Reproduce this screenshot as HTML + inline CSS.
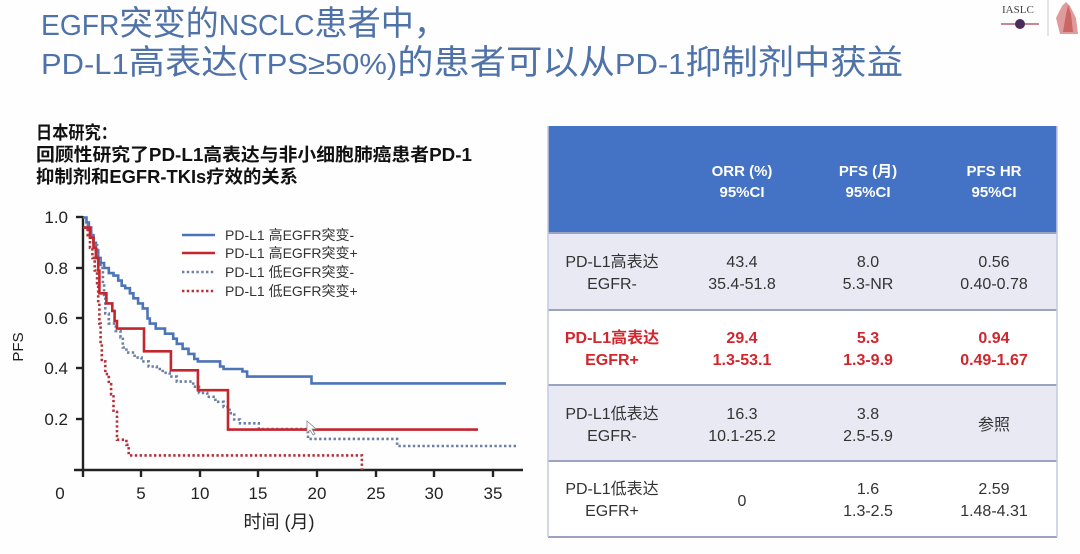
<!DOCTYPE html>
<html>
<head>
<meta charset="utf-8">
<style>
html,body{margin:0;padding:0;background:#fff;}
svg{display:block;}
text{font-family:"Liberation Sans","Noto Sans CJK SC",sans-serif;}
</style>
</head>
<body>
<svg width="1080" height="554" viewBox="0 0 1080 554" xmlns="http://www.w3.org/2000/svg">
<rect x="0" y="0" width="1080" height="554" fill="#fefefe"/>

<!-- Title -->
<text x="41" y="35" fill="#4f72a8" font-size="31" textLength="406" lengthAdjust="spacingAndGlyphs"><tspan font-size="29">EGFR</tspan><tspan font-size="34">突变的</tspan><tspan font-size="29">NSCLC</tspan><tspan font-size="34">患者中，</tspan></text>
<text x="41" y="74" fill="#4f72a8" font-size="31" textLength="862" lengthAdjust="spacingAndGlyphs"><tspan font-size="29">PD-L1</tspan><tspan font-size="34">高表达</tspan><tspan font-size="29">(TPS≥50%)</tspan><tspan font-size="34">的患者可以从</tspan><tspan font-size="29">PD-1</tspan><tspan font-size="34">抑制剂中获益</tspan></text>

<!-- logos -->
<text x="1002" y="13" style="font-family:'Liberation Serif',serif" font-size="11" fill="#444">IASLC</text>
<line x1="1001" y1="24" x2="1039" y2="24" stroke="#b06070" stroke-width="1.5"/>
<circle cx="1020" cy="24" r="5" fill="#4a2c5c"/>
<line x1="1048" y1="0" x2="1048" y2="36" stroke="#ccc" stroke-width="1"/>
<path d="M1060 34 L1056 18 L1062 6 L1066 2 L1070 6 L1076 18 L1078 34 Z" fill="#d98a8a" opacity="0.85"/>
<path d="M1063 32 L1066 14 L1068 5 L1071 14 L1073 32 Z" fill="#c0504d" opacity="0.7"/>

<!-- Subtitle -->
<text x="36" y="139" font-size="18" font-weight="bold" fill="#111" textLength="81" lengthAdjust="spacingAndGlyphs">日本研究：</text>
<text x="36" y="161" font-size="18" font-weight="bold" fill="#111" textLength="436" lengthAdjust="spacingAndGlyphs">回顾性研究了PD-L1高表达与非小细胞肺癌患者PD-1</text>
<text x="36" y="183" font-size="18" font-weight="bold" fill="#111" textLength="262" lengthAdjust="spacingAndGlyphs">抑制剂和EGFR-TKIs疗效的关系</text>

<!-- Chart axes -->
<g stroke="#222" stroke-width="2.4" fill="none">
<line x1="83" y1="216" x2="83" y2="471"/>
<line x1="74" y1="470" x2="523" y2="470"/>
<line x1="76" y1="217" x2="83" y2="217"/>
<line x1="76" y1="268" x2="83" y2="268"/>
<line x1="76" y1="318" x2="83" y2="318"/>
<line x1="76" y1="368" x2="83" y2="368"/>
<line x1="76" y1="419" x2="83" y2="419"/>
<line x1="83" y1="470" x2="83" y2="477"/>
<line x1="141" y1="470" x2="141" y2="477"/>
<line x1="200" y1="470" x2="200" y2="477"/>
<line x1="258" y1="470" x2="258" y2="477"/>
<line x1="317" y1="470" x2="317" y2="477"/>
<line x1="376" y1="470" x2="376" y2="477"/>
<line x1="434" y1="470" x2="434" y2="477"/>
<line x1="493" y1="470" x2="493" y2="477"/>
</g>
<g font-size="17" fill="#222" text-anchor="end">
<text x="68" y="223">1.0</text>
<text x="68" y="274">0.8</text>
<text x="68" y="324">0.6</text>
<text x="68" y="374">0.4</text>
<text x="68" y="425">0.2</text>
</g>
<g font-size="17" fill="#222" text-anchor="middle">
<text x="60" y="499">0</text>
<text x="141" y="499">5</text>
<text x="200" y="499">10</text>
<text x="258" y="499">15</text>
<text x="317" y="499">20</text>
<text x="376" y="499">25</text>
<text x="434" y="499">30</text>
<text x="493" y="499">35</text>
</g>
<text x="279" y="528" font-size="18" fill="#222" text-anchor="middle">时间 (月)</text>
<text transform="translate(23,347) rotate(-90)" font-size="15" fill="#222" text-anchor="middle">PFS</text>

<!-- Curves -->
<path fill="none" stroke="#4d74b8" stroke-width="2.6" d="M83 217.5 H86.5 V222.5 H88.9 V227.6 H91.2 V235.2 H93.5 V242.8 H95.9 V250.3 H98.2 V257.9 H100.6 V263 H104.1 V268 H108.8 V273.1 H113.5 V275.6 H118.2 V280.6 H121.7 V285.7 H125.2 V288.2 H129.9 V293.3 H133.4 V298.3 H138.1 V303.4 H142.8 V308.4 H147.5 V318.5 H149.8 V323.6 H155.7 V328.6 H165 V333.7 H173.2 V338.7 H176.8 V343.8 H182.6 V348.8 H188.5 V353.9 H194.3 V358.9 H197.9 V361.4 H220.1 V366.5 H223.6 V369 H242.4 V371.5 H247.1 V376.6 H311.5 V383.4 H506"/>

<path fill="none" stroke="#6a7ea6" stroke-width="2.6" stroke-dasharray="2.4 2.4" d="M86.5 225.1 H90 V235.2 H93.5 V245.3 H97.1 V257.9 H100.6 V268 H102.9 V283.2 H104.1 V298.3 H105.3 V313.5 H108.8 V323.6 H115.8 V331.1 H120.5 V337.4 H122.8 V347.5 H126.4 V352.6 H134.6 V357.6 H141.6 V361.4 H148.6 V366.5 H156.8 V369 H162.7 V372.8 H169.7 V376.6 H176.8 V381.6 H193.2 V386.7 H199 V393 H207.2 V396.8 H215.4 V401.8 H223.6 V406.9 H229.5 V413.2 H234.2 V419.5 H240 V423.3 H258.8 V429.1 H308 V438.9 H397.1 V446 H518"/>

<path fill="none" stroke="#b5323c" stroke-width="2.6" stroke-dasharray="2.4 2.4" d="M84.2 227.6 H87.7 V235.2 H90 V247.8 H92.4 V257.9 H94.7 V270.5 H97.1 V283.2 H98.2 V303.4 H99.4 V323.6 H100.6 V343.8 H101.8 V361.4 H105.3 V374.1 H108.8 V384.2 H111.1 V394.3 H113.5 V411.9 H117 V439.7 H126.4 V444.8 H128.7 V455.4 H361.9 V470"/>

<path fill="none" stroke="#c4262e" stroke-width="2.6" d="M83 227.6 H90 V237.7 H93.5 V247.8 H95.9 V257.9 H98.2 V270.5 H99.4 V293.3 H106.4 V303.4 H112.3 V310.9 H114.6 V321 H117 V328.6 H144 V351.3 H170.9 V370.3 H197.9 V390.2 H228 V429.6 H478"/>

<!-- cursor -->
<path d="M307 421 L307 433 L310 430 L313 435 L315 434 L312 429 L316 429 Z" fill="#fff" stroke="#888" stroke-width="0.8"/>

<!-- Legend -->
<line x1="182" y1="235" x2="215" y2="235" stroke="#4d74b8" stroke-width="2.6"/>
<line x1="182" y1="253" x2="215" y2="253" stroke="#c4262e" stroke-width="2.6"/>
<line x1="182" y1="272" x2="215" y2="272" stroke="#6a7ea6" stroke-width="2.6" stroke-dasharray="2.4 2.4"/>
<line x1="182" y1="291" x2="215" y2="291" stroke="#b5323c" stroke-width="2.6" stroke-dasharray="2.4 2.4"/>
<g font-size="14" fill="#333">
<text x="225" y="240">PD-L1 高EGFR突变-</text>
<text x="225" y="258">PD-L1 高EGFR突变+</text>
<text x="225" y="277">PD-L1 低EGFR突变-</text>
<text x="225" y="296">PD-L1 低EGFR突变+</text>
</g>

<!-- Table -->
<rect x="548" y="126" width="509" height="107" fill="#4472c4"/>
<rect x="548" y="233" width="509" height="77" fill="#e9e9f4"/>
<rect x="548" y="310" width="509" height="75" fill="#ffffff"/>
<rect x="548" y="385" width="509" height="76" fill="#e9e9f4"/>
<rect x="548" y="461" width="509" height="76" fill="#ffffff"/>
<g stroke="#9aa4c2" stroke-width="2">
<line x1="548" y1="310" x2="1057" y2="310"/>
<line x1="548" y1="385" x2="1057" y2="385"/>
<line x1="548" y1="461" x2="1057" y2="461"/>
<line x1="548" y1="537" x2="1057" y2="537"/>
<line x1="548" y1="233" x2="1057" y2="233"/>
</g>
<g stroke="#c3c9dd" stroke-width="1.5">
<line x1="548" y1="126" x2="548" y2="537"/>
<line x1="1057" y1="126" x2="1057" y2="537"/>
</g>
<g font-size="15" font-weight="bold" fill="#fff" text-anchor="middle">
<text x="742" y="176">ORR (%)</text>
<text x="742" y="197">95%CI</text>
<text x="868" y="176">PFS (月)</text>
<text x="868" y="197">95%CI</text>
<text x="994" y="176">PFS HR</text>
<text x="994" y="197">95%CI</text>
</g>
<g font-size="16" fill="#333" text-anchor="middle">
<text x="612" y="267">PD-L1高表达</text>
<text x="612" y="289">EGFR-</text>
<text x="742" y="267">43.4</text>
<text x="742" y="289">35.4-51.8</text>
<text x="868" y="267">8.0</text>
<text x="868" y="289">5.3-NR</text>
<text x="994" y="267">0.56</text>
<text x="994" y="289">0.40-0.78</text>

<text x="612" y="419">PD-L1低表达</text>
<text x="612" y="441">EGFR-</text>
<text x="742" y="419">16.3</text>
<text x="742" y="441">10.1-25.2</text>
<text x="868" y="419">3.8</text>
<text x="868" y="441">2.5-5.9</text>
<text x="994" y="430">参照</text>

<text x="612" y="494">PD-L1低表达</text>
<text x="612" y="516">EGFR+</text>
<text x="742" y="506">0</text>
<text x="868" y="494">1.6</text>
<text x="868" y="516">1.3-2.5</text>
<text x="994" y="494">2.59</text>
<text x="994" y="516">1.48-4.31</text>
</g>
<g font-size="16" font-weight="bold" fill="#d0262e" text-anchor="middle">
<text x="612" y="343">PD-L1高表达</text>
<text x="612" y="365">EGFR+</text>
<text x="742" y="343">29.4</text>
<text x="742" y="365">1.3-53.1</text>
<text x="868" y="343">5.3</text>
<text x="868" y="365">1.3-9.9</text>
<text x="994" y="343">0.94</text>
<text x="994" y="365">0.49-1.67</text>
</g>
</svg>
</body>
</html>
